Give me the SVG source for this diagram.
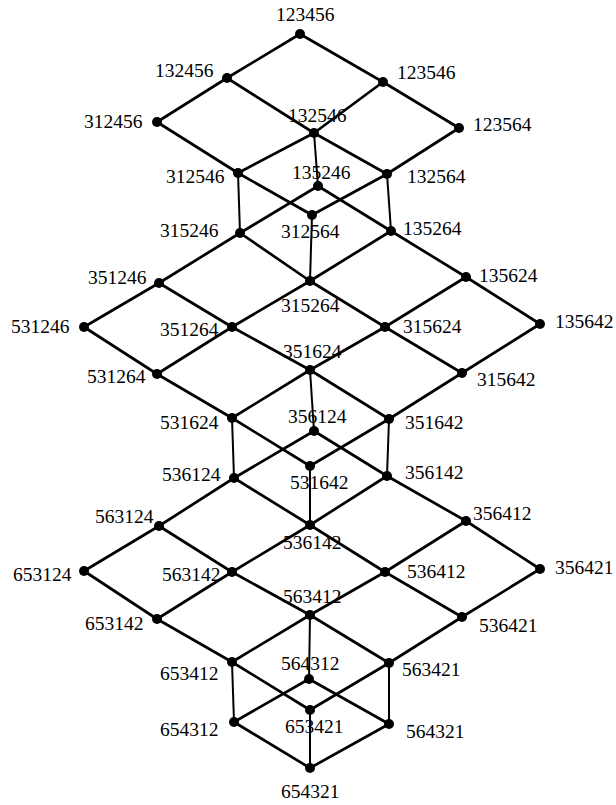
<svg xmlns="http://www.w3.org/2000/svg" width="616" height="805" viewBox="0 0 616 805">
<style>
.e{stroke:#000;stroke-width:2.7;stroke-linecap:round;fill:none}
.v{stroke:#000;stroke-width:2;fill:none}
circle{fill:#000}
text{font-family:"Liberation Serif","Times New Roman",serif;font-size:19.5px;fill:#000}
</style>
<rect width="616" height="805" fill="#fff"/>
<g id="connectors">
<line class="e" x1="300" y1="34" x2="227" y2="78"/>
<line class="e" x1="300" y1="34" x2="383" y2="82"/>
<line class="e" x1="227" y1="78" x2="157" y2="122"/>
<line class="e" x1="227" y1="78" x2="314" y2="133"/>
<line class="e" x1="314" y1="133" x2="387" y2="174"/>
<line class="e" x1="383" y1="82" x2="314" y2="133"/>
<line class="e" x1="314" y1="133" x2="238" y2="173"/>
<line class="e" x1="383" y1="82" x2="459" y2="128"/>
<line class="e" x1="157" y1="122" x2="238" y2="173"/>
<line class="e" x1="238" y1="173" x2="312" y2="215"/>
<line class="e" x1="459" y1="128" x2="387" y2="174"/>
<line class="e" x1="387" y1="174" x2="312" y2="215"/>
<line class="e" x1="318" y1="186" x2="240" y2="233"/>
<line class="e" x1="318" y1="186" x2="391" y2="231"/>
<line class="e" x1="240" y1="233" x2="310" y2="281"/>
<line class="e" x1="391" y1="231" x2="310" y2="281"/>
<line class="e" x1="240" y1="233" x2="159" y2="283"/>
<line class="e" x1="391" y1="231" x2="466" y2="277"/>
<line class="e" x1="310" y1="281" x2="232" y2="327"/>
<line class="e" x1="310" y1="281" x2="385" y2="327"/>
<line class="e" x1="466" y1="277" x2="385" y2="327"/>
<line class="e" x1="466" y1="277" x2="540" y2="324"/>
<line class="e" x1="159" y1="283" x2="84" y2="327"/>
<line class="e" x1="159" y1="283" x2="232" y2="327"/>
<line class="e" x1="84" y1="327" x2="157" y2="374"/>
<line class="e" x1="232" y1="327" x2="157" y2="374"/>
<line class="e" x1="232" y1="327" x2="310" y2="370"/>
<line class="e" x1="385" y1="327" x2="310" y2="370"/>
<line class="e" x1="385" y1="327" x2="462" y2="373"/>
<line class="e" x1="540" y1="324" x2="462" y2="373"/>
<line class="e" x1="157" y1="374" x2="232" y2="418"/>
<line class="e" x1="310" y1="370" x2="232" y2="418"/>
<line class="e" x1="310" y1="370" x2="389" y2="419"/>
<line class="e" x1="462" y1="373" x2="389" y2="419"/>
<line class="e" x1="232" y1="418" x2="310" y2="466"/>
<line class="e" x1="389" y1="419" x2="310" y2="466"/>
<line class="e" x1="314" y1="431" x2="234" y2="478"/>
<line class="e" x1="314" y1="431" x2="387" y2="476"/>
<line class="e" x1="234" y1="478" x2="310" y2="525"/>
<line class="e" x1="387" y1="476" x2="310" y2="525"/>
<line class="e" x1="234" y1="478" x2="159" y2="526"/>
<line class="e" x1="310" y1="525" x2="232" y2="572"/>
<line class="e" x1="310" y1="525" x2="385" y2="572"/>
<line class="e" x1="387" y1="476" x2="466" y2="521"/>
<line class="e" x1="466" y1="521" x2="385" y2="572"/>
<line class="e" x1="466" y1="521" x2="540" y2="569"/>
<line class="e" x1="159" y1="526" x2="84" y2="571"/>
<line class="e" x1="159" y1="526" x2="232" y2="572"/>
<line class="e" x1="84" y1="571" x2="157" y2="619"/>
<line class="e" x1="232" y1="572" x2="157" y2="619"/>
<line class="e" x1="232" y1="572" x2="310" y2="615"/>
<line class="e" x1="385" y1="572" x2="310" y2="615"/>
<line class="e" x1="385" y1="572" x2="462" y2="617"/>
<line class="e" x1="540" y1="569" x2="462" y2="617"/>
<line class="e" x1="157" y1="619" x2="232" y2="662"/>
<line class="e" x1="310" y1="615" x2="232" y2="662"/>
<line class="e" x1="310" y1="615" x2="389" y2="663"/>
<line class="e" x1="462" y1="617" x2="389" y2="663"/>
<line class="e" x1="309" y1="679" x2="234" y2="722"/>
<line class="e" x1="309" y1="679" x2="389" y2="724"/>
<line class="e" x1="232" y1="662" x2="310" y2="710"/>
<line class="e" x1="389" y1="663" x2="310" y2="710"/>
<line class="e" x1="234" y1="722" x2="310" y2="768"/>
<line class="e" x1="389" y1="724" x2="310" y2="768"/>
<line class="v" x1="238" y1="173" x2="240" y2="233"/>
<line class="v" x1="314" y1="133" x2="318" y2="186"/>
<line class="v" x1="387" y1="174" x2="391" y2="231"/>
<line class="v" x1="312" y1="215" x2="310" y2="281"/>
<line class="v" x1="310" y1="370" x2="314" y2="431"/>
<line class="v" x1="232" y1="418" x2="234" y2="478"/>
<line class="v" x1="389" y1="419" x2="387" y2="476"/>
<line class="v" x1="310" y1="466" x2="310" y2="525"/>
<line class="v" x1="310" y1="615" x2="309" y2="679"/>
<line class="v" x1="232" y1="662" x2="234" y2="722"/>
<line class="v" x1="389" y1="663" x2="389" y2="724"/>
<line class="v" x1="310" y1="710" x2="310" y2="768"/>
</g>
<g id="n123456"><circle cx="300" cy="34" r="5"/><text x="276" y="21">123456</text></g>
<g id="n132456"><circle cx="227" cy="78" r="5"/><text x="155" y="77">132456</text></g>
<g id="n123546"><circle cx="383" cy="82" r="5"/><text x="397" y="79">123546</text></g>
<g id="n312456"><circle cx="157" cy="122" r="5"/><text x="84" y="128">312456</text></g>
<g id="n132546"><circle cx="314" cy="133" r="5"/><text x="288" y="122">132546</text></g>
<g id="n123564"><circle cx="459" cy="128" r="5"/><text x="473" y="131">123564</text></g>
<g id="n312546"><circle cx="238" cy="173" r="5"/><text x="166" y="183">312546</text></g>
<g id="n132564"><circle cx="387" cy="174" r="5"/><text x="407" y="183">132564</text></g>
<g id="n135246"><circle cx="318" cy="186" r="5"/><text x="292" y="179">135246</text></g>
<g id="n312564"><circle cx="312" cy="215" r="5"/><text x="281" y="238">312564</text></g>
<g id="n315246"><circle cx="240" cy="233" r="5"/><text x="160" y="237">315246</text></g>
<g id="n135264"><circle cx="391" cy="231" r="5"/><text x="403" y="235">135264</text></g>
<g id="n315264"><circle cx="310" cy="281" r="5"/><text x="281" y="312">315264</text></g>
<g id="n351246"><circle cx="159" cy="283" r="5"/><text x="88" y="284">351246</text></g>
<g id="n135624"><circle cx="466" cy="277" r="5"/><text x="479" y="282">135624</text></g>
<g id="n531246"><circle cx="84" cy="327" r="5"/><text x="11" y="333">531246</text></g>
<g id="n351264"><circle cx="232" cy="327" r="5"/><text x="160" y="336">351264</text></g>
<g id="n315624"><circle cx="385" cy="327" r="5"/><text x="403" y="333">315624</text></g>
<g id="n135642"><circle cx="540" cy="324" r="5"/><text x="555" y="328">135642</text></g>
<g id="n351624"><circle cx="310" cy="370" r="5"/><text x="283" y="358">351624</text></g>
<g id="n531264"><circle cx="157" cy="374" r="5"/><text x="87" y="383">531264</text></g>
<g id="n315642"><circle cx="462" cy="373" r="5"/><text x="477" y="386">315642</text></g>
<g id="n531624"><circle cx="232" cy="418" r="5"/><text x="160" y="429">531624</text></g>
<g id="n351642"><circle cx="389" cy="419" r="5"/><text x="405" y="429">351642</text></g>
<g id="n356124"><circle cx="314" cy="431" r="5"/><text x="288" y="423">356124</text></g>
<g id="n531642"><circle cx="310" cy="466" r="5"/><text x="290" y="489">531642</text></g>
<g id="n536124"><circle cx="234" cy="478" r="5"/><text x="162" y="481">536124</text></g>
<g id="n356142"><circle cx="387" cy="476" r="5"/><text x="405" y="479">356142</text></g>
<g id="n563124"><circle cx="159" cy="526" r="5"/><text x="95" y="523">563124</text></g>
<g id="n536142"><circle cx="310" cy="525" r="5"/><text x="283" y="549">536142</text></g>
<g id="n356412"><circle cx="466" cy="521" r="5"/><text x="473" y="520">356412</text></g>
<g id="n653124"><circle cx="84" cy="571" r="5"/><text x="13" y="581">653124</text></g>
<g id="n563142"><circle cx="232" cy="572" r="5"/><text x="162" y="581">563142</text></g>
<g id="n536412"><circle cx="385" cy="572" r="5"/><text x="407" y="578">536412</text></g>
<g id="n356421"><circle cx="540" cy="569" r="5"/><text x="555" y="574">356421</text></g>
<g id="n653142"><circle cx="157" cy="619" r="5"/><text x="85" y="630">653142</text></g>
<g id="n563412"><circle cx="310" cy="615" r="5"/><text x="283" y="603">563412</text></g>
<g id="n536421"><circle cx="462" cy="617" r="5"/><text x="479" y="632">536421</text></g>
<g id="n653412"><circle cx="232" cy="662" r="5"/><text x="160" y="680">653412</text></g>
<g id="n563421"><circle cx="389" cy="663" r="5"/><text x="402" y="676">563421</text></g>
<g id="n564312"><circle cx="309" cy="679" r="5"/><text x="281" y="670">564312</text></g>
<g id="n653421"><circle cx="310" cy="710" r="5"/><text x="285" y="733">653421</text></g>
<g id="n654312"><circle cx="234" cy="722" r="5"/><text x="160" y="736">654312</text></g>
<g id="n564321"><circle cx="389" cy="724" r="5"/><text x="406" y="738">564321</text></g>
<g id="n654321"><circle cx="310" cy="768" r="5"/><text x="281" y="798">654321</text></g>
</svg>
